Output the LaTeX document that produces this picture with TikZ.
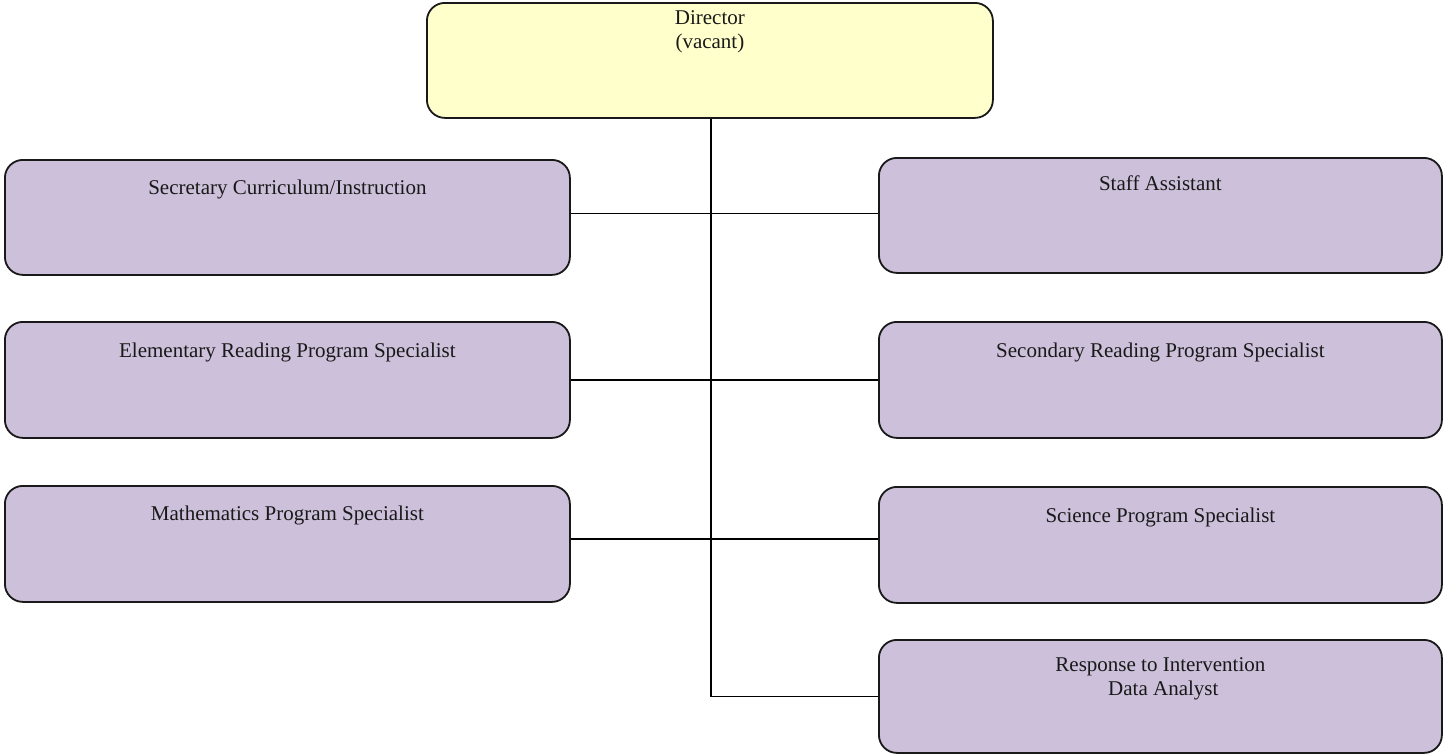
\documentclass[tikz,border=0pt]{standalone}
\usepackage{fontspec}
\setmainfont{Liberation Serif}
\begin{document}
\begin{tikzpicture}[x=1pt,y=-1pt,
  box/.style={draw=black!90, line width=1.8pt, rounded corners=18pt, anchor=north west, inner sep=0pt},
  dirbox/.style={box, fill=dirfill},
  staffbox/.style={box, fill=stafffill},
  txt/.style={anchor=north, inner sep=0pt, align=center, font=\fontsize{21}{24}\selectfont, text=black!90},
  conn/.style={draw=black, line width=1.8pt}]
\definecolor{dirfill}{RGB}{255,255,204}
\definecolor{stafffill}{RGB}{204,192,218}
\useasboundingbox (0,0) rectangle (1443,755);
% boxes
\node[dirbox, minimum width=566pt, minimum height=115pt] (dir) at (426,2) {};
\node[staffbox, minimum width=565pt, minimum height=115pt] (sec) at (4,159) {};
\node[staffbox, minimum width=565pt, minimum height=116pt] (ele) at (4,321) {};
\node[staffbox, minimum width=565pt, minimum height=116pt] (mat) at (4,485) {};
\node[staffbox, minimum width=563pt, minimum height=115pt] (sta) at (878,157) {};
\node[staffbox, minimum width=563pt, minimum height=116pt] (scd) at (878,321) {};
\node[staffbox, minimum width=563pt, minimum height=116pt] (sci) at (878,486) {};
\node[staffbox, minimum width=563pt, minimum height=113pt] (rti) at (878,639) {};
% texts
\node[txt] (tdir) at ([yshift=-8pt]dir.north) {Director\\(vacant)};
\node[txt] (tsec) at ([yshift=-21pt]sec.north) {Secretary Curriculum/Instruction};
\node[txt] (tele) at ([yshift=-22pt]ele.north) {Elementary Reading Program Specialist};
\node[txt] (tmat) at ([yshift=-21pt]mat.north) {Mathematics Program Specialist};
\node[txt] (tsta) at ([yshift=-19pt]sta.north) {Staff Assistant};
\node[txt] (tscd) at ([yshift=-22pt]scd.north) {Secondary Reading Program Specialist};
\node[txt] (tsci) at ([yshift=-22pt]sci.north) {Science Program Specialist};
\node[txt] (trti) at ([yshift=-18pt]rti.north) {Response to Intervention\\ \hphantom{i}Data Analyst};
% connectors
\coordinate (c1) at ([yshift=4pt]sec.east);
\coordinate (c3) at ([yshift=5pt]mat.east);
\draw[conn] ([xshift=1pt]dir.south) -- ([xshift=1pt]dir.south |- rti.west) -- (rti.west);
\draw[conn] (c1) -- (c1 -| sta.west);
\draw[conn] (ele.east) -- (ele.east -| scd.west);
\draw[conn] (c3) -- (c3 -| sci.west);
\end{tikzpicture}
\end{document}
